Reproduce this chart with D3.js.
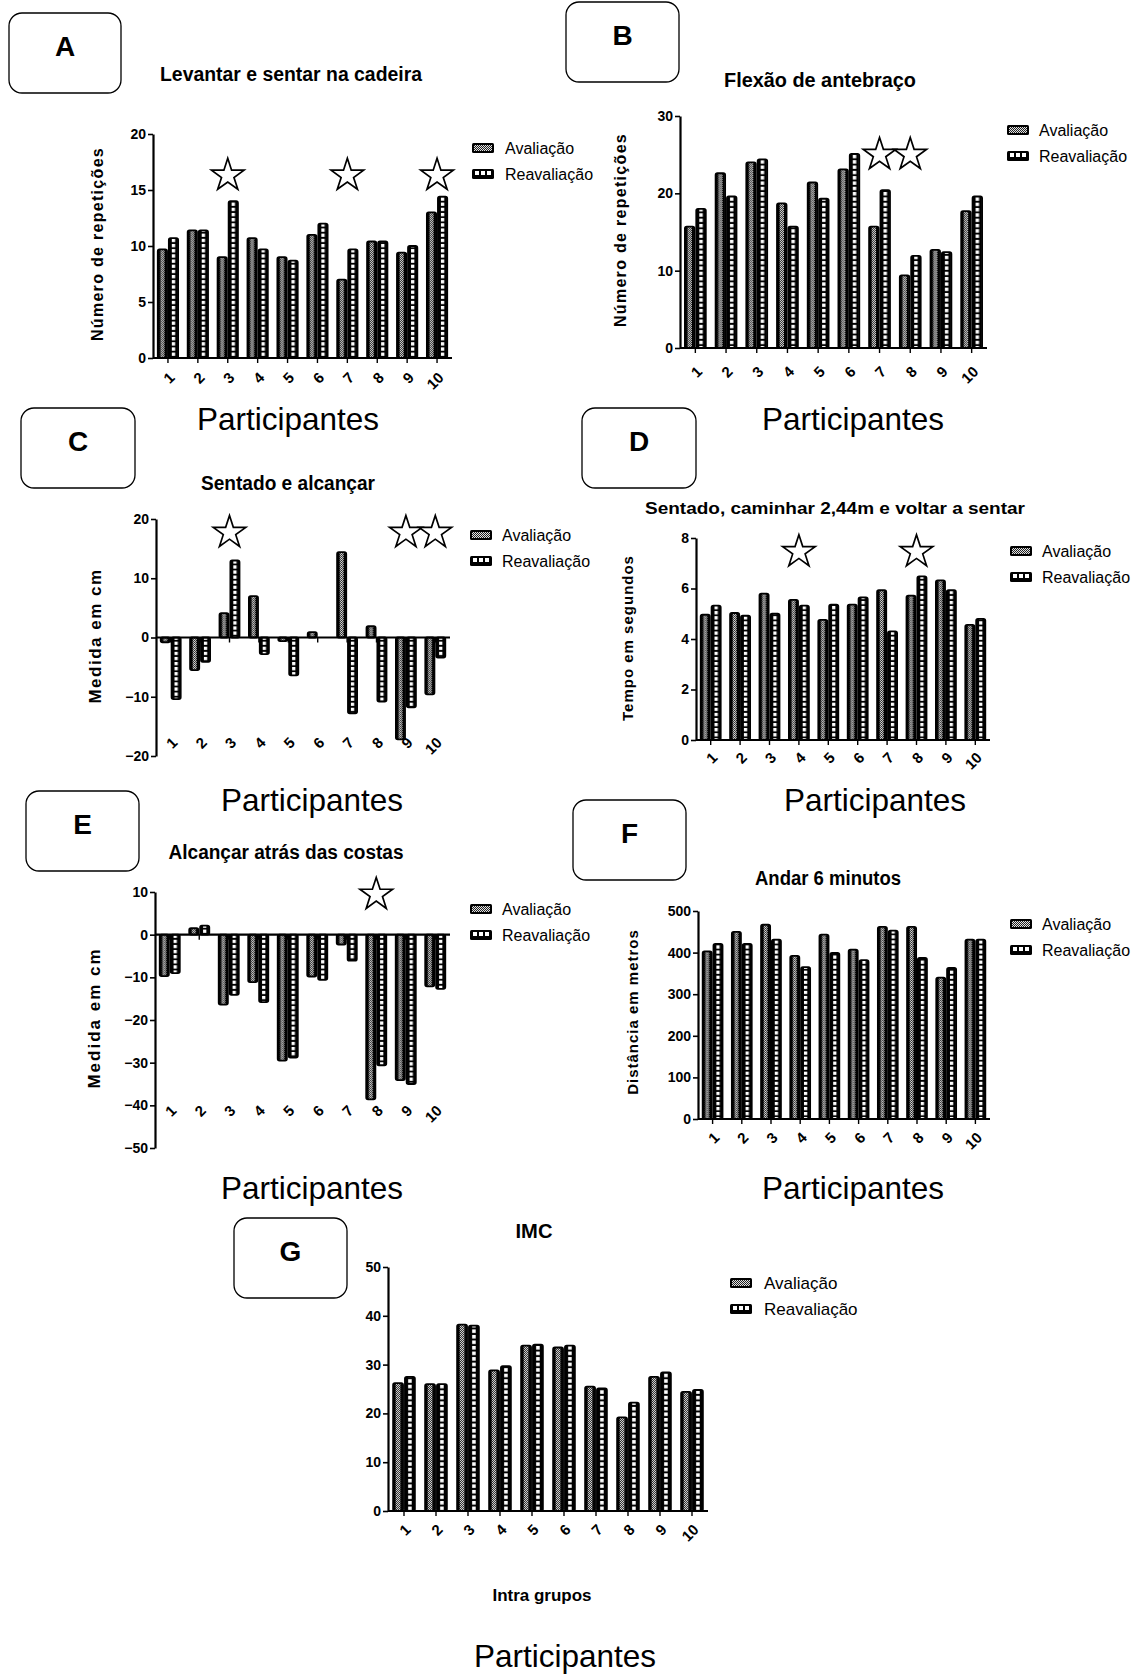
<!DOCTYPE html>
<html>
<head>
<meta charset="utf-8">
<script src="https://cdn.jsdelivr.net/npm/d3@7"></script>
<style>
  body { margin: 0; background: #fff; }
  svg { display: block; font-family: 'Liberation Sans', Arial, sans-serif; }
</style>
</head>
<body>
<svg id="fig" width="1137" height="1675"></svg>
<script>
// data

const participantes = ['1', '2', '3', '4', '5', '6', '7', '8', '9', '10']
const series = ['Avaliação', 'Reavaliação']

const levantarAval = [9.7, 11.4, 9.0, 10.7, 9.0, 11.0, 7.0, 10.4, 9.4, 13.0]
const levantarReav = [10.7, 11.4, 14.0, 9.7, 8.7, 12.0, 9.7, 10.4, 10.0, 14.4]
const levantarTicks = [0, 5, 10, 15, 20]
const levantarStars = ['3', '7', '10']

const flexaoAval = [15.7, 22.6, 24.0, 18.7, 21.4, 23.1, 15.7, 9.4, 12.7, 17.7]
const flexaoReav = [18.0, 19.6, 24.4, 15.7, 19.3, 25.1, 20.4, 11.9, 12.4, 19.6]
const flexaoTicks = [0, 10, 20, 30]
const flexaoStars = ['7', '8']

const alcancarAval = [-0.8, -5.5, 4.1, 7.0, -0.6, 0.9, 14.4, 1.9, -17.2, -9.6]
const alcancarReav = [-10.4, -4.1, 13.0, -2.8, -6.4, 0, -12.8, -10.8, -11.8, -3.4]
const alcancarTicks = [-20, -10, 0, 10, 20]
const alcancarStars = ['3', '9', '10']

const caminharAval = [4.96, 5.03, 5.80, 5.55, 4.76, 5.36, 5.93, 5.72, 6.32, 4.56]
const caminharReav = [5.32, 4.92, 5.0, 5.32, 5.36, 5.65, 4.3, 6.48, 5.93, 4.8]
const caminharTicks = [0, 2, 4, 6, 8]
const caminharStars = ['4', '8']

const costasAval = [-9.7, 1.5, -16.4, -11.1, -29.5, -9.8, -2.3, -38.6, -34.1, -12.1]
const costasReav = [-9.0, 2.1, -14.1, -15.8, -28.8, -10.6, -6.1, -30.6, -35.0, -12.7]
const costasTicks = [-50, -40, -30, -20, -10, 0, 10]
const costasStars = ['8']

const andarAval = [403, 450, 467, 392, 443, 407, 462, 462, 340, 431]
const andarReav = [421, 421, 431, 365, 399, 382, 453, 387, 363, 431]
const andarTicks = [0, 100, 200, 300, 400, 500]
const andarStars = []

const imcAval = [26.2, 26.0, 38.2, 28.8, 33.9, 33.5, 25.5, 19.2, 27.5, 24.4]
const imcReav = [27.5, 26.0, 38.0, 29.7, 34.1, 33.9, 25.1, 22.2, 28.4, 24.8]
const imcTicks = [0, 10, 20, 30, 40, 50]
const imcStars = []


// layout of the seven panels

const PANELS = [
  { id: 'A', aval: levantarAval, reav: levantarReav, ticks: levantarTicks, stars: levantarStars, starAt: 16.3,
    x: [153, 452], y: [358, 134], labelY: 375,
    title: ['Levantar e sentar na cadeira', 291, 81, 262, 20],
    ylabel: ['Número de repetições', 97, 244, 16, 1.3],
    box: [9, 13, 112, 80], legend: [472, 148, 505],
    xlabel: [288, 430] },
  { id: 'B', aval: flexaoAval, reav: flexaoReav, ticks: flexaoTicks, stars: flexaoStars, starAt: 25,
    x: [680, 987], y: [348, 116], labelY: 369,
    title: ['Flexão de antebraço', 820, 87, 192, 20],
    ylabel: ['Número de repetições', 620, 230, 16, 1.3],
    box: [566, 2, 113, 80], legend: [1007, 130, 1039],
    xlabel: [853, 430] },
  { id: 'C', aval: alcancarAval, reav: alcancarReav, ticks: alcancarTicks, stars: alcancarStars, starAt: 17.7,
    x: [156, 450], y: [756, 519], labelY: 740,
    title: ['Sentado e alcançar', 288, 490, 174, 20],
    ylabel: ['Medida em cm', 95, 636, 17, 1.5],
    box: [21, 408, 114, 80], legend: [470, 535, 502],
    xlabel: [312, 811] },
  { id: 'D', aval: caminharAval, reav: caminharReav, ticks: caminharTicks, stars: caminharStars, starAt: 7.45,
    x: [696, 990], y: [740, 538], labelY: 755,
    title: ['Sentado, caminhar 2,44m e voltar a sentar', 835, 514, 380, 17],
    ylabel: ['Tempo em segundos', 628, 638, 15, 1],
    box: [582, 408, 114, 80], legend: [1010, 551, 1042],
    xlabel: [875, 811] },
  { id: 'E', aval: costasAval, reav: costasReav, ticks: costasTicks, stars: costasStars, starAt: 9.4,
    x: [155, 450], y: [1148, 892], labelY: 1108,
    title: ['Alcançar atrás das costas', 286, 859, 235, 20],
    ylabel: ['Medida em cm', 94, 1018, 17, 2],
    box: [26, 791, 113, 80], legend: [470, 909, 502],
    xlabel: [312, 1199] },
  { id: 'F', aval: andarAval, reav: andarReav, ticks: andarTicks, stars: andarStars, starAt: 0,
    x: [698, 990], y: [1119, 911], labelY: 1135,
    title: ['Andar 6 minutos', 828, 885, 146, 20],
    ylabel: ['Distância em metros', 633, 1012, 15, 1],
    box: [573, 800, 113, 80], legend: [1010, 924, 1042],
    xlabel: [853, 1199] },
  { id: 'G', aval: imcAval, reav: imcReav, ticks: imcTicks, stars: imcStars, starAt: 0,
    x: [388, 708], y: [1511, 1267], labelY: 1527,
    title: ['IMC', 534, 1238, 37, 20],
    ylabel: null,
    box: [234, 1218, 113, 80], legend: [730, 1283, 764], legendSize: 17,
    xlabel: [565, 1667] }
]

const svg = d3.select('#fig')
const defs = svg.append('defs')

// fine grey checker for the "Avaliação" bars
defs.append('pattern')
  .attr('id', 'checker').attr('patternUnits', 'userSpaceOnUse')
  .attr('width', 2).attr('height', 2)
  .call(p => {
    p.append('rect').attr('width', 2).attr('height', 2).attr('fill', '#e2e2e2')
    p.append('rect').attr('width', 1).attr('height', 1).attr('fill', '#222')
    p.append('rect').attr('x', 1).attr('y', 1).attr('width', 1).attr('height', 1).attr('fill', '#222')
  })

PANELS.forEach(drawPanel)

svg.append('text')
  .attr('x', 542).attr('y', 1601)
  .attr('text-anchor', 'middle')
  .attr('font-size', 17).attr('font-weight', 'bold')
  .text('Intra grupos')


function drawPanel(p) {
  const g = svg.append('g').attr('class', 'panel-' + p.id)
  const domain = d3.extent(p.ticks)

  const x = d3.scaleBand().domain(participantes).range(p.x)
  const y = d3.scaleLinear().domain(domain).range(p.y)

  const step = x.step()
  const bw = step * 0.31
  const gap = step * 0.06
  const offAval = step / 2 - gap / 2 - bw
  const offReav = step / 2 + gap / 2

  // patterns aligned to the bar columns of this panel
  const avalId = 'aval-' + p.id, reavId = 'reav-' + p.id
  defs.append('pattern')
    .attr('id', avalId).attr('patternUnits', 'userSpaceOnUse')
    .attr('x', x(participantes[0]) + offAval).attr('y', 0)
    .attr('width', step).attr('height', 4)
    .call(pt => {
      pt.append('rect').attr('width', bw).attr('height', 4).attr('fill', '#000')
      pt.append('rect').attr('x', 2.6).attr('width', bw - 5.2).attr('height', 4).attr('fill', 'url(#checker)')
    })
  const sq = bw * 0.36
  defs.append('pattern')
    .attr('id', reavId).attr('patternUnits', 'userSpaceOnUse')
    .attr('x', x(participantes[0]) + offReav).attr('y', 0)
    .attr('width', step).attr('height', sq * 1.55)
    .call(pt => {
      pt.append('rect').attr('width', bw).attr('height', sq * 1.55).attr('fill', '#000')
      pt.append('rect').attr('x', bw / 2 - sq / 2).attr('y', sq * 0.25)
        .attr('width', sq).attr('height', sq).attr('fill', '#fff')
    })

  // letter box
  g.append('rect')
    .attr('x', p.box[0]).attr('y', p.box[1])
    .attr('width', p.box[2]).attr('height', p.box[3])
    .attr('rx', 13)
    .attr('fill', 'none').attr('stroke', '#000').attr('stroke-width', 1.3)
  g.append('text')
    .attr('x', p.box[0] + p.box[2] / 2).attr('y', p.box[1] + p.box[3] / 2 + 3)
    .attr('text-anchor', 'middle')
    .attr('font-size', 28).attr('font-weight', 'bold')
    .text(p.id)

  // title
  g.append('text')
    .attr('x', p.title[1]).attr('y', p.title[2])
    .attr('text-anchor', 'middle')
    .attr('font-size', p.title[4]).attr('font-weight', 'bold')
    .attr('textLength', p.title[3]).attr('lengthAdjust', 'spacingAndGlyphs')
    .text(p.title[0])

  // bars
  const rows = participantes.map((c, i) => ({ c: c, aval: p.aval[i], reav: p.reav[i] }))
  const bar = (sel, key, off, fill) => sel.append('g')
    .selectAll('rect').data(rows.filter(d => d[key] !== 0)).join('rect')
      .attr('x', d => x(d.c) + off)
      .attr('y', d => y(Math.max(0, d[key])))
      .attr('width', bw)
      .attr('height', d => Math.abs(y(d[key]) - y(0)))
      .attr('rx', 1.8)
      .attr('fill', fill)
      .attr('stroke', '#000').attr('stroke-width', 1.8)
  bar(g, 'aval', offAval, 'url(#' + avalId + ')')
  bar(g, 'reav', offReav, 'url(#' + reavId + ')')

  // y axis
  const yAxis = g.append('g')
    .attr('transform', 'translate(' + p.x[0] + ',0)')
    .call(d3.axisLeft(y).tickValues(p.ticks).tickSize(5).tickSizeOuter(0).tickPadding(2))
  yAxis.select('.domain').attr('stroke-width', 2.2)
  yAxis.selectAll('.tick line').attr('stroke-width', 1.6)
  yAxis.selectAll('.tick text').attr('font-size', 14).attr('font-weight', 'bold')
    .attr('font-family', "'Liberation Sans', Arial, sans-serif")

  // x axis at zero
  const xAxis = g.append('g')
  xAxis.append('line')
    .attr('x1', p.x[0]).attr('x2', p.x[1])
    .attr('y1', y(0)).attr('y2', y(0))
    .attr('stroke', '#000').attr('stroke-width', 2.2)
  xAxis.selectAll('line.tick').data(participantes).join('line')
    .attr('class', 'tick')
    .attr('x1', d => x(d) + step / 2).attr('x2', d => x(d) + step / 2)
    .attr('y1', y(0)).attr('y2', y(0) + 5)
    .attr('stroke', '#000').attr('stroke-width', 1.4)
  xAxis.selectAll('text').data(participantes).join('text')
    .attr('transform', d => 'translate(' + (x(d) + step / 2 + 4) + ',' + p.labelY + ') rotate(-45)')
    .attr('text-anchor', 'end').attr('dy', '0.35em')
    .attr('font-size', 15).attr('font-weight', 'bold')
    .text(d => d)

  // significance stars
  g.selectAll('path.star').data(p.stars).join('path')
    .attr('class', 'star')
    .attr('transform', d => 'translate(' + (x(d) + step / 2) + ',' + y(p.starAt) + ')')
    .attr('d', d3.symbol(d3.symbolStar, 330)())
    .attr('fill', '#fff').attr('stroke', '#000').attr('stroke-width', 1.7)

  // legend
  const ls = p.legendSize || 16
  const leg = g.append('g')
  series.forEach((s, i) => {
    const ly = p.legend[1] + i * 26
    const sw = leg.append('g').attr('transform', 'translate(' + p.legend[0] + ',' + (ly - 5) + ')')
    sw.append('rect').attr('width', 22).attr('height', 10).attr('rx', 1.5).attr('fill', '#000')
    if (i === 0) {
      sw.append('rect').attr('x', 2).attr('y', 2).attr('width', 18).attr('height', 6).attr('fill', 'url(#checker)')
    } else {
      d3.range(3).forEach(k => sw.append('rect')
        .attr('x', 3 + k * 6).attr('y', 2).attr('width', 4).attr('height', 4).attr('fill', '#fff'))
    }
    leg.append('text')
      .attr('x', p.legend[2]).attr('y', ly).attr('dy', '0.35em')
      .attr('font-size', ls)
      .text(s)
  })

  // axis titles
  if (p.ylabel) {
    g.append('text')
      .attr('transform', 'translate(' + p.ylabel[1] + ',' + p.ylabel[2] + ') rotate(-90)')
      .attr('text-anchor', 'middle').attr('dy', '0.35em')
      .attr('font-size', p.ylabel[3]).attr('font-weight', 'bold')
      .attr('letter-spacing', p.ylabel[4])
      .text(p.ylabel[0])
  }
  g.append('text')
    .attr('x', p.xlabel[0]).attr('y', p.xlabel[1])
    .attr('text-anchor', 'middle')
    .attr('font-size', 31.5)
    .text('Participantes')
}
</script>
</body>
</html>
